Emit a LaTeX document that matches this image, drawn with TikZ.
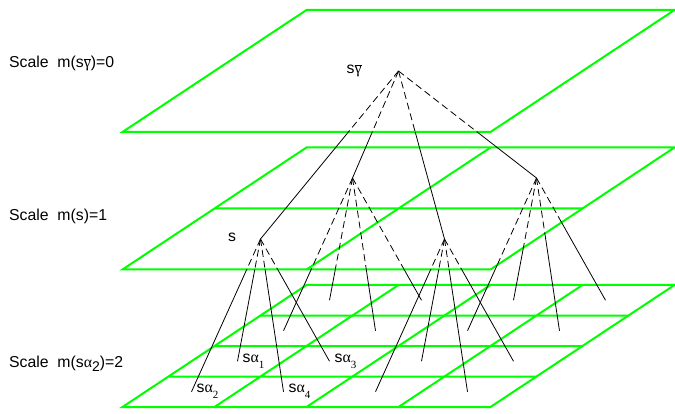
\documentclass[tikz,border=0pt]{standalone}
\usepackage{fontspec}
\setmainfont{Liberation Sans}
\newfontfamily\grk{Liberation Serif}
\usepackage{xcolor}
\definecolor{planegreen}{RGB}{0,255,0}
\newcommand{\idx}[3]{\raisebox{-#1pt}{\fontsize{#2}{#2}\selectfont #3}}

\begin{document}
\begin{tikzpicture}[
  x=1pt, y=-1pt,
  plane/.style={shift={(122.5,#1)}, x={(368pt,0pt)}, y={(184pt,122pt)}},
  sheet/.style={draw=planegreen, line width=2pt},
  link/.style={line width=0.8pt},
  hidden/.style={link, dash pattern=on 7pt off 4pt},
  txt/.style={font=\fontsize{15.8}{18}\selectfont, inner sep=0pt, anchor=base west}
]
\useasboundingbox (0,0) rectangle (675,414);

\begin{scope}[plane=132]
  \coordinate (top-bl) at (0,0); \coordinate (top-br) at (1,0);
  \coordinate (top-tr) at (1,1); \coordinate (top-tl) at (0,1);
  \draw[sheet] (top-bl) -- (top-br) -- (top-tr) -- (top-tl) -- cycle;
  \coordinate (sg) at (0.5,0.5);
\end{scope}

\begin{scope}[plane=269.5]
  \coordinate (mid-bl) at (0,0); \coordinate (mid-br) at (1,0);
  \coordinate (mid-tr) at (1,1); \coordinate (mid-tl) at (0,1);
  \draw[sheet] (mid-bl) -- (mid-br) -- (mid-tr) -- (mid-tl) -- cycle;
  \draw[sheet] (0,0.5) -- (1,0.5) (0.5,0) -- (0.5,1);
  \foreach \k/\u/\v in {1/0.25/0.25, 2/0.75/0.25, 3/0.25/0.75, 4/0.75/0.75}
    \coordinate (m\k) at (\u,\v);
\end{scope}

\begin{scope}[plane=407]
  \draw[sheet] (0,0) -- (1,0) -- (1,1) -- (0,1) -- cycle;
  \foreach \i in {0.25,0.5,0.75}
    \draw[sheet] (0,\i) -- (1,\i) (\i,0) -- (\i,1);
  \foreach \k/\u/\v in {1/0/0, 2/0.5/0, 3/0/0.5, 4/0.5/0.5}
    \foreach \j/\du/\dv in {1/0.125/0.375, 2/0.125/0.125, 3/0.375/0.375, 4/0.375/0.125}
      \coordinate (b\k\j) at ({\u+\du},{\v+\dv});
\end{scope}

% inside a plane the links are dashed, outside solid
\begin{scope}
  \clip (top-bl) -- (top-br) -- (top-tr) -- (top-tl) -- cycle;
  \foreach \k in {1,...,4} \draw[hidden] (sg) -- (m\k);
\end{scope}
\begin{scope}
  \clip (0,0) -- (675,0) -- (675,414) -- (0,414) -- cycle
    (top-bl) -- (top-br) -- (top-tr) -- (top-tl) -- cycle;
  \foreach \k in {1,...,4} \draw[link] (sg) -- (m\k);
\end{scope}

\begin{scope}
  \clip (mid-bl) -- (mid-br) -- (mid-tr) -- (mid-tl) -- cycle;
  \foreach \k in {1,...,4}
    \foreach \j in {1,...,4} \draw[hidden] (m\k) -- (b\k\j);
\end{scope}
\begin{scope}
  \clip (0,0) -- (675,0) -- (675,414) -- (0,414) -- cycle
    (mid-bl) -- (mid-br) -- (mid-tr) -- (mid-tl) -- cycle;
  \foreach \k in {1,...,4}
    \foreach \j in {1,...,4} \draw[link] (m\k) -- (b\k\j);
\end{scope}

\node[txt] (scale0) at (9,68) {Scale~~m(s$\overline{\mbox{\grk γ}}$)=0};
\node[txt] (scale1) at (9,221) {Scale~~m(s)=1};
\node[txt] (scale2) at (9,367) {Scale~~m(s{\grk α}\idx{4}{14}{2})=2};

\node[txt] (sglab) at ([xshift=-52pt, yshift=-2.5pt]sg) {s$\overline{\mbox{\grk γ}}$};
\node[txt] (slab) at ([xshift=-32.5pt, yshift=-2.5pt]m1) {s};
\foreach \j in {1,...,4}
  \node[txt] (alab\j) at ([xshift=5pt, yshift=-1pt]b1\j) {s{\grk α}\idx{6}{11}{\grk \j}};
\end{tikzpicture}
\end{document}
